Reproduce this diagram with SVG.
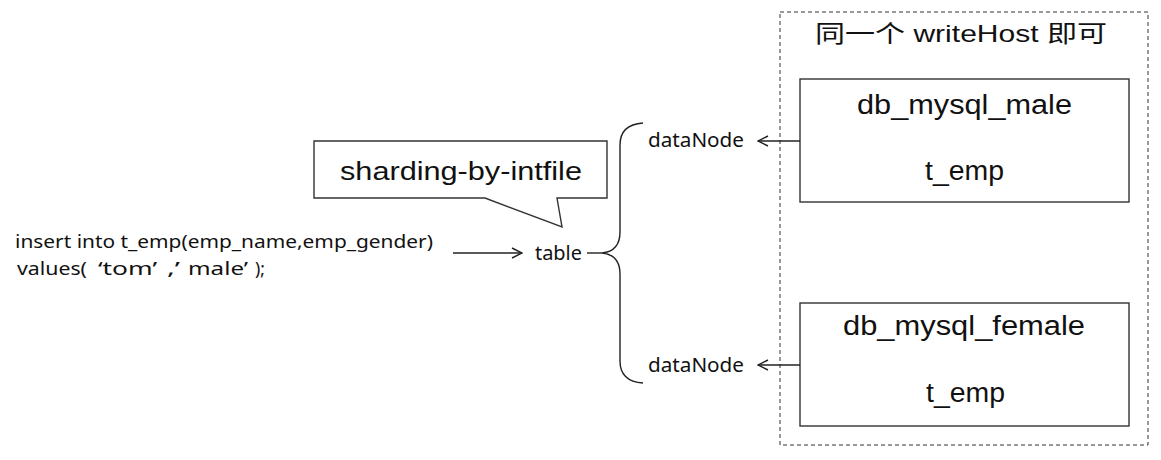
<svg xmlns="http://www.w3.org/2000/svg" width="1161" height="460" viewBox="0 0 1161 460">
<style>
.ln{fill:none;stroke:#222;stroke-width:1.4}
.box{fill:#fff;stroke:#333;stroke-width:1.4}
.ar{font-family:"Liberation Sans",Arial,sans-serif;fill:#111}
.ui{font-family:"Noto Sans","Open Sans",sans-serif;fill:#111}
.cjk{font-family:"Liberation Sans","Noto Sans CJK SC",sans-serif;fill:#111}
</style>
<defs>
<marker id="ah" viewBox="0 0 12 12" refX="11" refY="6" markerWidth="12" markerHeight="12" markerUnits="userSpaceOnUse" orient="auto">
<path d="M1,1 L11,6 L1,11" fill="none" stroke="#222" stroke-width="1.4"/>
</marker>
</defs>
<rect width="1161" height="460" fill="#fff"/>
<g id="group">
<rect x="780" y="12" width="368" height="433" fill="none" stroke="#333" stroke-width="1" stroke-dasharray="4,3"/>
<text class="cjk" x="815" y="42" font-size="24" textLength="292" lengthAdjust="spacingAndGlyphs">同一个 writeHost 即可</text>
</g>
<g id="male">
<rect class="box" x="800" y="79" width="329" height="123"/>
<text class="ar" x="857" y="114" font-size="27" textLength="215" lengthAdjust="spacingAndGlyphs">db_mysql_male</text>
<text class="ar" x="925" y="180" font-size="27" textLength="79" lengthAdjust="spacingAndGlyphs">t_emp</text>
</g>
<g id="female">
<rect class="box" x="800" y="303" width="329" height="123"/>
<text class="ar" x="843" y="335" font-size="27" textLength="242" lengthAdjust="spacingAndGlyphs">db_mysql_female</text>
<text class="ar" x="926" y="402" font-size="27" textLength="79" lengthAdjust="spacingAndGlyphs">t_emp</text>
</g>
<g id="callout">
<path class="box" d="M314,141 H607 V198 H557 L562,227 L485,198 H314 Z"/>
<text class="ar" x="340" y="180" font-size="26" textLength="242" lengthAdjust="spacingAndGlyphs">sharding-by-intfile</text>
</g>
<g id="sql">
<text class="ui" x="15" y="248" font-size="18" textLength="418" lengthAdjust="spacingAndGlyphs">insert into t_emp(emp_name,emp_gender)</text>
<text class="ui" y="275" font-size="18"><tspan x="17" textLength="70" lengthAdjust="spacingAndGlyphs">values(</tspan><tspan x="98" textLength="59" lengthAdjust="spacingAndGlyphs">‘tom’</tspan><tspan x="167" textLength="13" lengthAdjust="spacingAndGlyphs">,’</tspan><tspan x="188" textLength="60" lengthAdjust="spacingAndGlyphs">male’</tspan><tspan x="255" textLength="10" lengthAdjust="spacingAndGlyphs">);</tspan></text>
</g>
<g id="table">
<text class="ui" x="535" y="260" font-size="19" textLength="47" lengthAdjust="spacingAndGlyphs">table</text>
</g>
<g id="dataNode1">
<text class="ui" x="648" y="147" font-size="19" textLength="96" lengthAdjust="spacingAndGlyphs">dataNode</text>
</g>
<g id="dataNode2">
<text class="ui" x="648" y="372" font-size="19" textLength="96" lengthAdjust="spacingAndGlyphs">dataNode</text>
</g>
<g id="connectors">
<line class="ln" x1="453" y1="253" x2="522" y2="253" marker-end="url(#ah)"/>
<path class="ln" d="M587,253 H602"/>
<path class="ln" d="M643,123 C628,124 620,131 620,145 L620,232 C620,246 612,252 602,253 C612,254 620,260 620,274 L620,361 C620,375 628,382 643,383"/>
<line class="ln" x1="800" y1="141" x2="758" y2="141" marker-end="url(#ah)"/>
<line class="ln" x1="800" y1="365" x2="758" y2="365" marker-end="url(#ah)"/>
</g>
</svg>
